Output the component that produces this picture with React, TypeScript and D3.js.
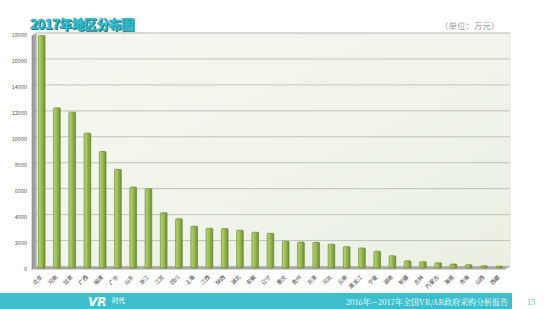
import React from "react";
import * as d3 from "d3";

const regions = ["北京","河南","甘肃","广西","福建","广东","山东","浙江","江苏","四川","上海","江西","陕西","湖北","安徽","辽宁","重庆","贵州","天津","河北","云南","黑龙江","宁夏","湖南","新疆","吉林","内蒙古","海南","青海","山西","西藏"];
const amounts = [17800,12230,11900,10280,8870,7490,6130,6000,4150,3680,3100,2950,2920,2800,2640,2560,1950,1880,1860,1720,1530,1430,1180,830,440,370,290,190,140,60,30];
const yTicks = [0,2000,4000,6000,8000,10000,12000,14000,16000,18000];

const W = 550, H = 309;
const wallLeft = 36.7, wallRight = 510, wallTop = 33, floorY = 266.5;

export default function App() {
  const x = d3.scaleBand<string>().domain(regions).range([36.7, 504.2]).paddingInner(0.56).paddingOuter(0.108);
  const y = d3.scaleLinear().domain([0, 18000]).range([floorY, wallTop]);
  const bw = x.bandwidth();
  return (
    <svg width={W} height={H} style={{ position: "absolute", left: 0, top: 0, background: "#fff" }} fontFamily="'Noto Sans CJK SC', sans-serif">
      <defs>
        <linearGradient id="wall" x1="0" y1="0" x2="1" y2="1">
          <stop offset="0" stopColor="#f5f8f0" />
          <stop offset="1" stopColor="#ebf0e3" />
        </linearGradient>
        <linearGradient id="bar" x1="0" y1="0" x2="1" y2="0">
          <stop offset="0" stopColor="#b9d47a" />
          <stop offset="0.45" stopColor="#9cbd55" />
          <stop offset="1" stopColor="#6f8f35" />
        </linearGradient>
        <linearGradient id="side" x1="0" y1="0" x2="1" y2="0">
          <stop offset="0" stopColor="#8e8e8e" />
          <stop offset="1" stopColor="#b5b5b5" />
        </linearGradient>
      </defs>
      {/* title */}
      <text x={31} y={29.5} fontSize={13} fontWeight={900} letterSpacing={-0.6} fill="#1d6f7b">2017年地区分布图</text>
      <text x={30} y={28.5} fontSize={13} fontWeight={900} letterSpacing={-0.6} fill="#3cc0d0" stroke="#2aa3b3" strokeWidth={0.4}>2017年地区分布图</text>
      <text x={440} y={29} fontSize={8.5} fill="#a0a0a0">（单位：万元）</text>
      {/* back wall */}
      <rect x={wallLeft} y={wallTop} width={wallRight - wallLeft} height={floorY - wallTop} fill="url(#wall)" stroke="#d8ddd0" strokeWidth={0.6} />
      {/* left side wall */}
      <polygon points={`${31.7},${wallTop + 3} ${wallLeft},${wallTop} ${wallLeft},${floorY} ${31.7},${floorY + 3}`} fill="url(#side)" />
      {/* gridlines */}
      {yTicks.map((t) => (
        <g key={t}>
          <line x1={wallLeft} x2={wallRight} y1={y(t)} y2={y(t)} stroke="#b4b8ae" strokeWidth={0.8} />
          <line x1={31.7} x2={wallLeft} y1={y(t) + 3} y2={y(t)} stroke="#9a9a9a" strokeWidth={0.6} />
          <text x={27} y={y(t) + 4} fontSize={5.5} fill="#555" textAnchor="end">{t}</text>
        </g>
      ))}
      {/* floor */}
      <polygon points={`${31.7},${floorY + 3} ${wallLeft},${floorY} ${wallRight},${floorY} ${wallRight - 5},${floorY + 3}`} fill="#a9a9a9" />
      {/* bars */}
      {regions.map((r, i) => {
        const bx = x(r) as number;
        const top = y(amounts[i]);
        return (
          <g key={r}>
            <rect x={bx} y={top} width={bw} height={Math.max(floorY + 1.5 - top, 1)} fill="url(#bar)" stroke="#5e7d28" strokeWidth={0.6} rx={1} />
            <text transform={`translate(${bx + bw / 2 + 1},${floorY + 11}) rotate(-45)`} fontSize={5.5} fill="#444" textAnchor="end">{r}</text>
          </g>
        );
      })}
      {/* footer */}
      <rect x={0} y={293} width={512} height={16} fill="#3dbecd" />
      <text x={88} y={305.5} fontSize={12} fontWeight={900} fontStyle="italic" fill="#fff" fontFamily="'DejaVu Sans', sans-serif">VR</text>
      <text x={112} y={303} fontSize={6.5} fill="#fff">时代</text>
      <text x={508} y={304.5} fontSize={8} fill="#fff" textAnchor="end" fontFamily="'Noto Serif CJK SC', 'Noto Sans CJK SC', serif">2016年—2017年全国VR/AR政府采购分析报告</text>
      <text x={527} y={304.5} fontSize={8} fill="#3dbecd" fontFamily="'Liberation Serif', serif">15</text>
    </svg>
  );
}
